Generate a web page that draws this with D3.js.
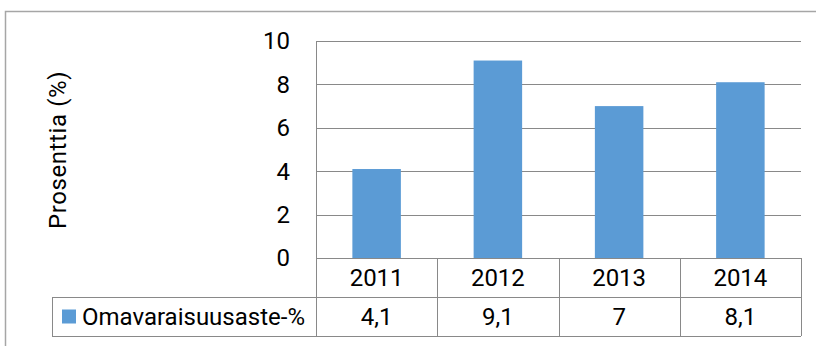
<!DOCTYPE html>
<html><head><meta charset="utf-8">
<script src="https://cdn.jsdelivr.net/npm/d3@7/dist/d3.min.js"></script>
<style>body{margin:0;background:#fff}</style>
</head><body>
<svg id="c" width="816" height="346"></svg>
<script>
const categories = ["2011", "2012", "2013", "2014"];
const values = [4.1, 9.1, 7, 8.1];
const valueLabels = ["4,1", "9,1", "7", "8,1"];
const yTicks = [0, 2, 4, 6, 8, 10];
const seriesName = "Omavaraisuusaste-%";
const yTitle = "Prosenttia (%)";

const svg = d3.select("#c");
const font = "'Liberation Sans Narrow', 'Roboto', sans-serif";
const fs = 24;
const L = 316, R = 801, T = 41, B = 258;
const rowH = 39;
const grid = "#898989";

svg.append("rect").attr("x", 5.5).attr("y", 11.5).attr("width", 815).attr("height", 345)
  .attr("fill", "none").attr("stroke", "#a6a6a6").attr("stroke-width", 1.5);

const x = d3.scaleBand().domain(categories).range([L, R]).paddingInner(0.6).paddingOuter(0.3);
const xc = d3.scaleBand().domain(categories).range([L, R]);
const y = d3.scaleLinear().domain([0, 10]).range([B, T]);

// gridlines
svg.append("g").selectAll("line").data(yTicks.filter(d => d > 0)).join("line")
  .attr("x1", L).attr("x2", R).attr("y1", d => Math.round(y(d)) + 0.5).attr("y2", d => Math.round(y(d)) + 0.5)
  .attr("stroke", grid).attr("stroke-width", 1);

// bars
svg.append("g").selectAll("rect").data(values).join("rect")
  .attr("x", (d, i) => x(categories[i])).attr("width", x.bandwidth())
  .attr("y", d => y(d)).attr("height", d => B - y(d)).attr("fill", "#5b9bd5");

// y axis line
svg.append("line").attr("x1", L + 0.5).attr("x2", L + 0.5).attr("y1", T).attr("y2", B + 2 * rowH)
  .attr("stroke", grid);

// y tick labels
svg.append("g").selectAll("text").data(yTicks).join("text")
  .attr("x", 290).attr("y", d => y(d)).attr("dy", "0.35em").attr("text-anchor", "end")
  .attr("font-family", font).attr("font-size", fs).attr("fill", "#000").text(d => d);

// y title
svg.append("text").attr("transform", `translate(66,150) rotate(-90)`)
  .attr("text-anchor", "middle").attr("font-family", font).attr("font-size", fs)
  .attr("letter-spacing", 0.6).attr("fill", "#000").text(yTitle);

// data table
const tg = svg.append("g").attr("stroke", grid).attr("stroke-width", 1);
tg.append("line").attr("x1", L).attr("x2", R).attr("y1", B + 0.5).attr("y2", B + 0.5);
tg.append("line").attr("x1", 52).attr("x2", R).attr("y1", B + rowH + 0.5).attr("y2", B + rowH + 0.5);
tg.append("line").attr("x1", 52).attr("x2", R).attr("y1", B + 2 * rowH + 0.5).attr("y2", B + 2 * rowH + 0.5);
tg.append("line").attr("x1", 52.5).attr("x2", 52.5).attr("y1", B + rowH).attr("y2", B + 2 * rowH);
tg.selectAll(".v").data(categories).join("line")
  .attr("x1", d => Math.round(xc(d) + xc.bandwidth()) + 0.5).attr("x2", d => Math.round(xc(d) + xc.bandwidth()) + 0.5)
  .attr("y1", B).attr("y2", B + 2 * rowH);

svg.append("g").selectAll("text").data(categories).join("text")
  .attr("x", d => xc(d) + xc.bandwidth() / 2).attr("y", B + rowH / 2).attr("dy", "0.35em")
  .attr("text-anchor", "middle").attr("font-family", font).attr("font-size", fs).text(d => d);
svg.append("g").selectAll("text").data(valueLabels).join("text")
  .attr("x", (d, i) => xc(categories[i]) + xc.bandwidth() / 2).attr("y", B + rowH * 1.5).attr("dy", "0.35em")
  .attr("text-anchor", "middle").attr("font-family", font).attr("font-size", fs).text(d => d);

svg.append("rect").attr("x", 62).attr("y", B + rowH * 1.5 - 7).attr("width", 14).attr("height", 14).attr("fill", "#5b9bd5");
svg.append("text").attr("x", 82).attr("y", B + rowH * 1.5).attr("dy", "0.35em")
  .attr("font-family", font).attr("font-size", fs).text(seriesName);
</script>
</body></html>
